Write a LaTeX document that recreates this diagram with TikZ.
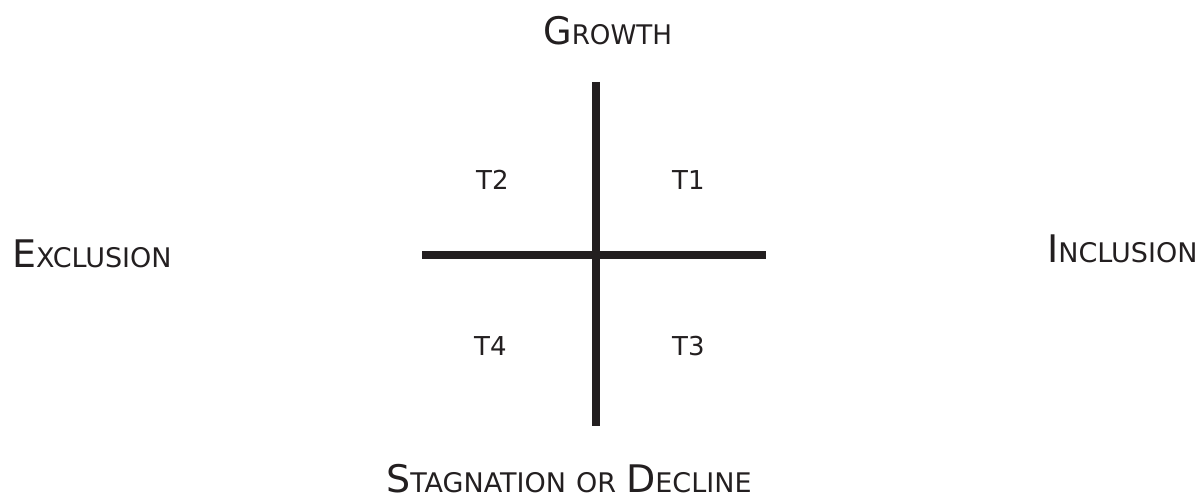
\documentclass[tikz,border=0pt]{standalone}
\usepackage{fontspec}
\setmainfont{DejaVu Sans}
\definecolor{ink}{HTML}{231F20}
\newcommand\bigL[1]{{\fontsize{38}{40}\selectfont #1}}
\newcommand\smallL[1]{{\fontsize{27}{30}\selectfont #1}}
\begin{document}
\begin{tikzpicture}[x=1pt,y=-1pt,
  axis/.style={draw=ink,line width=8pt},
  pole/.style={inner sep=0pt,anchor=base west,text=ink},
  quad/.style={inner sep=0pt,anchor=base west,text=ink,font=\fontsize{26}{30}\selectfont}]
\useasboundingbox (0,0) rectangle (1204,494);
\coordinate (vt) at (596,82);
\coordinate (vb) at (596,426);
\coordinate (hl) at (422,255);
\coordinate (hr) at (766,255);
\draw[axis] (vt) -- (vb);
\draw[axis] (hl) -- (hr);
\node[pole,xscale=0.97] (growth) at (543,45) {\bigL{G}\smallL{ROWTH}};
\node[pole] (excl) at (12,268) {\bigL{E}\smallL{XCLUSION}};
\node[pole] (incl) at (1047,263) {\bigL{I}\smallL{NCLUSION}};
\node[pole] (stag) at (386,492) {\bigL{S}\smallL{TAGNATION}\hspace{10pt}\smallL{OR}\hspace{10pt}\bigL{D}\smallL{ECLINE}};
\node[quad] (t2) at (476,190) {T2};
\node[quad] (t1) at (672,190) {T1};
\node[quad] (t4) at (474,355) {T4};
\node[quad] (t3) at (672,355) {T3};
\end{tikzpicture}
\end{document}
